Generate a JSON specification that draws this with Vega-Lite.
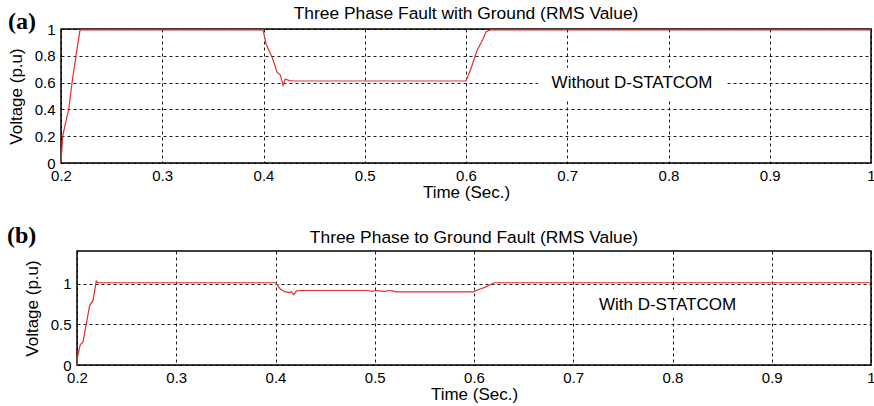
{
  "$schema": "https://vega.github.io/schema/vega-lite/v6.json",
  "background": "white",
  "padding": {"left": 5, "top": 3, "right": 0, "bottom": 2},
  "spacing": 22,
  "config": {
    "font": "Liberation Sans",
    "view": {"stroke": "black", "strokeWidth": 1.5},
    "axis": {
      "grid": true, "gridColor": "black", "gridDash": [3, 3], "gridWidth": 0.9, "gridOpacity": 1,
      "domain": false, "ticks": false, "tickSize": 0, "labelOverlap": false, "labelFlush": false, "labelBound": false,
      "labelFont": "Liberation Sans", "labelFontSize": 15, "labelColor": "black",
      "titleFont": "Liberation Sans", "titleFontSize": 17, "titleFontWeight": "normal", "titleColor": "black"
    },
    "title": {"font": "Liberation Sans", "fontSize": 17.4, "fontWeight": "normal", "color": "black", "anchor": "middle", "frame": "group"}
  },
  "vconcat": [
    {
      "spacing": 0,
      "hconcat": [
        {"width": 1, "height": 1, "view": {"stroke": null}, "data": {"values": []}, "mark": "point"},
        {
          "width": 810,
          "height": 134,
          "title": {"text": "Three Phase Fault with Ground (RMS Value)", "offset": -12},
          "layer": [
            {
              "data": {"values": [
                {"t": 0.2, "v": 0}, {"t": 0.2017, "v": 0.2}, {"t": 0.2045, "v": 0.3}, {"t": 0.2076, "v": 0.4},
                {"t": 0.2109, "v": 0.6}, {"t": 0.2148, "v": 0.8}, {"t": 0.2188, "v": 0.993}, {"t": 0.3995, "v": 0.993},
                {"t": 0.4025, "v": 0.89}, {"t": 0.409, "v": 0.78}, {"t": 0.4133, "v": 0.68}, {"t": 0.4166, "v": 0.657},
                {"t": 0.4193, "v": 0.58}, {"t": 0.4215, "v": 0.627}, {"t": 0.4255, "v": 0.615}, {"t": 0.43, "v": 0.612},
                {"t": 0.6, "v": 0.612}, {"t": 0.6003, "v": 0.62}, {"t": 0.605, "v": 0.707}, {"t": 0.6109, "v": 0.84},
                {"t": 0.6165, "v": 0.92}, {"t": 0.6198, "v": 0.98}, {"t": 0.624, "v": 0.993}, {"t": 1.0, "v": 0.993}
              ]},
              "mark": {"type": "line", "color": "#e3302c", "strokeWidth": 1.2},
              "encoding": {
                "x": {"field": "t", "type": "quantitative", "scale": {"domain": [0.2, 1], "nice": false, "zero": false},
                      "axis": {"values": [0.2, 0.3, 0.4, 0.5, 0.6, 0.7, 0.8, 0.9, 1], "tickCount": 9, "format": ".1~f", "labelOverlap": false, "labelPadding": 5, "title": "Time (Sec.)", "titlePadding": 1}},
                "y": {"field": "v", "type": "quantitative", "scale": {"domain": [0, 1], "nice": false},
                      "axis": {"values": [0, 0.2, 0.4, 0.6, 0.8, 1], "tickCount": 6, "format": ".1~f", "labelOverlap": false, "labelPadding": 6, "title": "Voltage (p.u)", "titlePadding": 9}}
              }
            },
            {
              "data": {"values": [{"x1": 0.671, "x2": 0.858, "y1": 0.47, "y2": 0.71}]},
              "mark": {"type": "rect", "fill": "white"},
              "encoding": {
                "x": {"field": "x1", "type": "quantitative"}, "x2": {"field": "x2"},
                "y": {"field": "y1", "type": "quantitative"}, "y2": {"field": "y2"}
              }
            },
            {
              "data": {"values": [{"t": 0.764, "v": 0.6, "label": "Without D-STATCOM"}]},
              "mark": {"type": "text", "fontSize": 17, "color": "black", "align": "center", "baseline": "middle"},
              "encoding": {
                "x": {"field": "t", "type": "quantitative"},
                "y": {"field": "v", "type": "quantitative"},
                "text": {"field": "label"}
              }
            },
            {
              "data": {"values": [{"t": 0.1477, "v": 1.052, "label": "(a)"}]},
              "mark": {"type": "text", "font": "Liberation Serif", "fontWeight": "bold", "fontSize": 24, "color": "black", "align": "left", "baseline": "middle"},
              "encoding": {
                "x": {"field": "t", "type": "quantitative"},
                "y": {"field": "v", "type": "quantitative"},
                "text": {"field": "label"}
              }
            }
          ]
        }
      ]
    },
    {
      "spacing": 0,
      "hconcat": [
        {"width": 1, "height": 1, "view": {"stroke": null}, "data": {"values": []}, "mark": "point"},
        {
          "width": 794,
          "height": 114,
          "title": {"text": "Three Phase to Ground Fault (RMS Value)", "offset": -22},
          "layer": [
            {
              "data": {"values": [
                {"t": 0.2, "v": 0}, {"t": 0.2005, "v": 0.1}, {"t": 0.2033, "v": 0.25}, {"t": 0.206, "v": 0.28},
                {"t": 0.2093, "v": 0.5}, {"t": 0.2127, "v": 0.73}, {"t": 0.2161, "v": 0.79}, {"t": 0.2194, "v": 1.03},
                {"t": 0.221, "v": 1.01}, {"t": 0.4003, "v": 1.01}, {"t": 0.4043, "v": 0.94}, {"t": 0.4093, "v": 0.9},
                {"t": 0.4137, "v": 0.89}, {"t": 0.4161, "v": 0.9}, {"t": 0.4184, "v": 0.862}, {"t": 0.4211, "v": 0.91},
                {"t": 0.425, "v": 0.915}, {"t": 0.4931, "v": 0.915}, {"t": 0.497, "v": 0.905}, {"t": 0.501, "v": 0.915},
                {"t": 0.505, "v": 0.91}, {"t": 0.51, "v": 0.905}, {"t": 0.514, "v": 0.915}, {"t": 0.518, "v": 0.91},
                {"t": 0.5216, "v": 0.898}, {"t": 0.5993, "v": 0.898}, {"t": 0.6053, "v": 0.93}, {"t": 0.6103, "v": 0.95},
                {"t": 0.6153, "v": 0.98}, {"t": 0.6203, "v": 1.01}, {"t": 1.0, "v": 1.01}
              ]},
              "mark": {"type": "line", "color": "#e3302c", "strokeWidth": 1.2},
              "encoding": {
                "x": {"field": "t", "type": "quantitative", "scale": {"domain": [0.2, 1], "nice": false, "zero": false},
                      "axis": {"values": [0.2, 0.3, 0.4, 0.5, 0.6, 0.7, 0.8, 0.9, 1], "tickCount": 9, "format": ".1~f", "labelOverlap": false, "labelPadding": 5, "title": "Time (Sec.)", "titlePadding": 1}},
                "y": {"field": "v", "type": "quantitative", "scale": {"domain": [0, 1.4], "nice": false},
                      "axis": {"values": [0, 0.5, 1], "tickCount": 3, "format": ".1~f", "labelOverlap": false, "labelPadding": 6, "title": "Voltage (p.u)", "titlePadding": 9}}
              }
            },
            {
              "data": {"values": [{"x1": 0.72, "x2": 0.87, "y1": 0.58, "y2": 0.93}]},
              "mark": {"type": "rect", "fill": "white"},
              "encoding": {
                "x": {"field": "x1", "type": "quantitative"}, "x2": {"field": "x2"},
                "y": {"field": "y1", "type": "quantitative"}, "y2": {"field": "y2"}
              }
            },
            {
              "data": {"values": [{"t": 0.795, "v": 0.733, "label": "With D-STATCOM"}]},
              "mark": {"type": "text", "fontSize": 17, "color": "black", "align": "center", "baseline": "middle"},
              "encoding": {
                "x": {"field": "t", "type": "quantitative"},
                "y": {"field": "v", "type": "quantitative"},
                "text": {"field": "label"}
              }
            },
            {
              "data": {"values": [{"t": 0.1295, "v": 1.584, "label": "(b)"}]},
              "mark": {"type": "text", "font": "Liberation Serif", "fontWeight": "bold", "fontSize": 24, "color": "black", "align": "left", "baseline": "middle"},
              "encoding": {
                "x": {"field": "t", "type": "quantitative"},
                "y": {"field": "v", "type": "quantitative"},
                "text": {"field": "label"}
              }
            }
          ]
        }
      ]
    }
  ]
}
